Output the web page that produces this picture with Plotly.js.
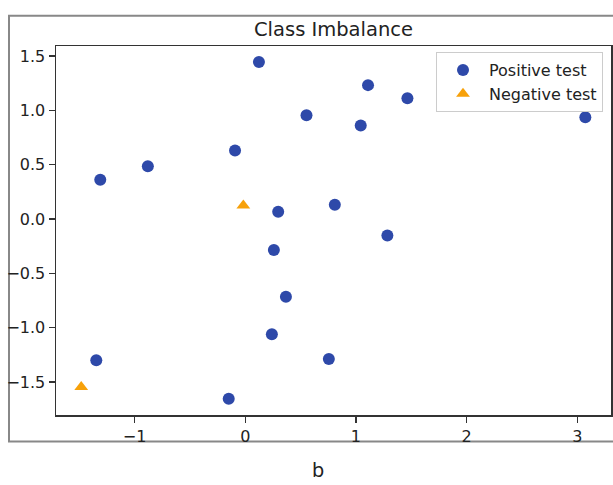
<!DOCTYPE html>
<html>
<head>
<meta charset="utf-8">
<script src="https://cdn.plot.ly/plotly-3.0.1.min.js"></script>
<style>html,body{margin:0;padding:0;background:#fff;}#chart{width:613px;height:485px;}</style>
</head>
<body>
<div id="chart"></div>
<script>
// Data
const positiveName = "Positive test";
const negativeName = "Negative test";
const posX = [0.123, 1.109, 1.465, 0.553, 1.043, 3.073, -0.093, -0.881, -1.311, 0.297, 0.809, 0.258, 1.284, 0.367, 0.240, 0.755, -1.347, -0.150];
const posY = [1.445, 1.232, 1.112, 0.955, 0.860, 0.937, 0.630, 0.485, 0.362, 0.066, 0.131, -0.284, -0.152, -0.715, -1.060, -1.288, -1.300, -1.653];
const negX = [-0.018, -1.483];
const negY = [0.125, -1.546];
const xTicks = [-1, 0, 1, 2, 3];
const yTicks = [-1.5, -1.0, -0.5, 0.0, 0.5, 1.0, 1.5];
const chartTitle = "Class Imbalance";
const panelLabel = "b";

const W = 613, H = 485;
const M = {l: 56, r: 2, t: 46, b: 70};
const pw = W - M.l - M.r, ph = H - M.t - M.b;
const px = v => (v - M.l) / pw;          // pixel -> paper x
const py = v => (H - M.b - v) / ph;      // pixel -> paper y

const font = "DejaVu Sans, sans-serif";

const traces = [
  {x: posX, y: posY, type: "scatter", mode: "markers", name: positiveName,
   marker: {symbol: "circle", size: 12, color: "#2E49A9"}},
  {x: negX, y: negY, type: "scatter", mode: "markers", name: negativeName,
   marker: {symbol: "triangle-up", size: 12, color: "#F7A10A"}}
];

const axisCommon = {
  showline: true, mirror: true, linecolor: "#333", linewidth: 1.5,
  showgrid: false, zeroline: false,
  ticks: "outside", ticklen: 6, tickwidth: 1.5, tickcolor: "#333",
  tickfont: {family: font, size: 16, color: "#222"},
  tickmode: "array"
};

const layout = {
  width: W, height: H,
  margin: M,
  paper_bgcolor: "#fff", plot_bgcolor: "#fff",
  showlegend: true,
  title: {text: chartTitle, font: {family: font, size: 19.5, color: "#222"},
          x: 0.5, xref: "paper", xanchor: "center", y: 1 - 29/H, yref: "container", yanchor: "middle"},
  xaxis: Object.assign({}, axisCommon, {range: [-1.711, 3.305], tickvals: xTicks,
          ticktext: xTicks.map(v => String(v).replace("-", "\u2212"))}),
  yaxis: Object.assign({}, axisCommon, {range: [-1.803, 1.592], tickvals: yTicks,
          ticktext: yTicks.map(v => v.toFixed(1).replace("-", "\u2212"))}),
  legend: {x: px(603), xanchor: "right", y: py(52), yanchor: "top",
           bgcolor: "rgba(255,255,255,0.9)", bordercolor: "#ccc", borderwidth: 1,
           font: {family: font, size: 16, color: "#222"},
           itemwidth: 42},
  shapes: [
    {type: "rect", xref: "paper", yref: "paper",
     x0: px(9), x1: px(616), y0: py(441.5), y1: py(15.7),
     line: {color: "#888", width: 2}, fillcolor: "rgba(0,0,0,0)", layer: "below"}
  ],
  annotations: [
    {text: panelLabel, xref: "paper", yref: "paper", x: px(318), y: py(485), xanchor: "center", yanchor: "bottom",
     showarrow: false, font: {family: "Noto Sans, sans-serif", size: 20, color: "#222"}}
  ]
};

Plotly.newPlot("chart", traces, layout, {displayModeBar: false, staticPlot: true});
</script>
</body>
</html>
